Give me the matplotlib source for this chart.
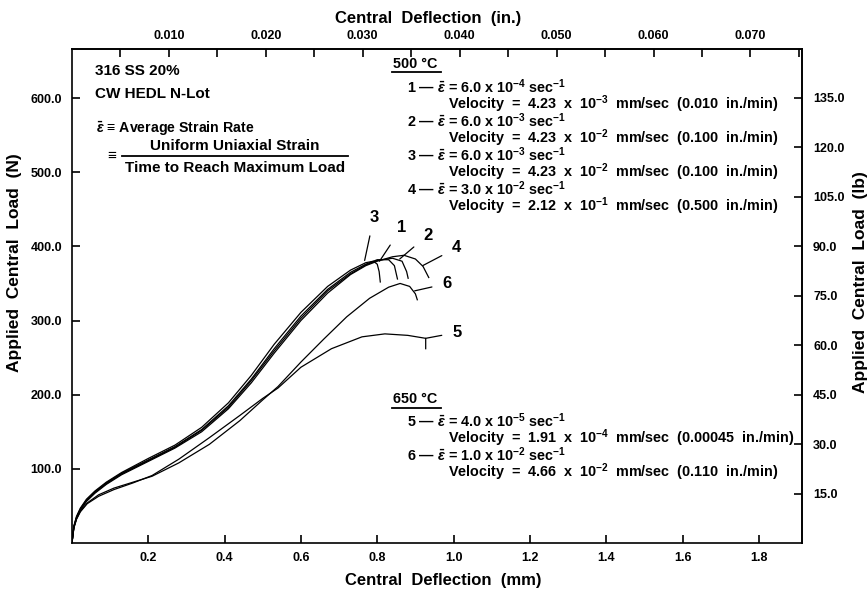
#!/usr/bin/env python3
"""Load vs central deflection for 316 SS 20% CW (HEDL N-Lot) at 500 and 650 C."""

import matplotlib

matplotlib.use("Agg")
import matplotlib.pyplot as plt

plt.rcParams.update(
    {
        "font.family": ["Liberation Sans", "DejaVu Sans"],
        "font.weight": "bold",
        "mathtext.fontset": "custom",
        "mathtext.rm": "Liberation Sans:bold",
        "mathtext.it": "Liberation Sans:italic:bold",
        "mathtext.bf": "Liberation Sans:bold",
        "mathtext.default": "rm",
        "axes.linewidth": 1.2,
    }
)

# curve data: deflection (mm), load (N)
X1 = [0, 0.005, 0.012, 0.022, 0.038, 0.06, 0.09, 0.13, 0.2, 0.27, 0.34, 0.41, 0.47, 0.53, 0.6, 0.67, 0.73, 0.77, 0.8, 0.83, 0.845, 0.853]
Y1 = [0, 22, 35, 46, 58, 69, 81, 94, 112, 130, 153, 185, 221, 262, 306, 342, 365, 376, 382, 382, 374, 356]
X2 = [0, 0.005, 0.012, 0.022, 0.038, 0.06, 0.09, 0.13, 0.2, 0.27, 0.34, 0.41, 0.47, 0.53, 0.6, 0.67, 0.73, 0.77, 0.8, 0.84, 0.865, 0.877, 0.881]
Y2 = [0, 22, 34, 45, 57, 68, 80, 93, 111, 129, 152, 183, 219, 259, 303, 340, 363, 375, 381, 384, 380, 366, 357]
X3 = [0, 0.005, 0.012, 0.022, 0.038, 0.06, 0.09, 0.13, 0.2, 0.27, 0.34, 0.41, 0.47, 0.53, 0.6, 0.67, 0.73, 0.77, 0.79, 0.8, 0.805, 0.808]
Y3 = [0, 23, 36, 47, 59, 70, 82, 95, 114, 132, 156, 189, 226, 268, 311, 346, 368, 378, 380, 376, 366, 352]
X4 = [0, 0.005, 0.012, 0.022, 0.038, 0.06, 0.09, 0.13, 0.2, 0.27, 0.34, 0.41, 0.47, 0.53, 0.6, 0.67, 0.73, 0.77, 0.8, 0.84, 0.87, 0.9, 0.92, 0.935]
Y4 = [0, 21, 33, 44, 56, 67, 79, 92, 110, 128, 150, 181, 216, 256, 300, 337, 362, 374, 380, 386, 388, 383, 373, 358]
X5 = [0, 0.005, 0.012, 0.022, 0.04, 0.07, 0.11, 0.16, 0.21, 0.28, 0.36, 0.44, 0.5, 0.54, 0.6, 0.68, 0.76, 0.82, 0.88, 0.927, 0.927]
Y5 = [0, 20, 32, 42, 53, 63, 72, 81, 91, 113, 142, 172, 195, 209, 237, 262, 278, 282, 280, 276, 262]
X6 = [0, 0.005, 0.012, 0.022, 0.04, 0.07, 0.11, 0.16, 0.21, 0.28, 0.36, 0.44, 0.5, 0.54, 0.6, 0.66, 0.72, 0.78, 0.83, 0.86, 0.885, 0.9, 0.905]
Y6 = [0, 21, 33, 43, 54, 65, 74, 82, 90, 108, 133, 165, 193, 211, 244, 275, 305, 330, 345, 350, 346, 336, 328]

CURVES = {"1": (X1, Y1), "2": (X2, Y2), "3": (X3, Y3), "4": (X4, Y4), "5": (X5, Y5), "6": (X6, Y6)}

# curve label -> (text position, leader target), data coords
CURVE_LABELS = {
    "3": ((0.791, 439), (0.767, 381)),
    "1": ((0.864, 425), (0.806, 380)),
    "2": ((0.932, 415), (0.859, 383)),
    "4": ((1.008, 398), (0.919, 374)),
    "6": ((0.984, 350), (0.898, 340)),
    "5": ((1.010, 284), (0.927, 276)),
}

X_TICKS_MM = [0.2, 0.4, 0.6, 0.8, 1.0, 1.2, 1.4, 1.6, 1.8]
Y_TICKS_N = [100, 200, 300, 400, 500, 600]
X_TICKS_IN = [0.005, 0.010, 0.015, 0.020, 0.025, 0.030, 0.035, 0.040, 0.045, 0.050, 0.055, 0.060, 0.065, 0.070, 0.075]
Y_TICKS_LB = [15, 30, 45, 60, 75, 90, 105, 120, 135]

EPS = r"$\bar{\mathit{\varepsilon}}$"
RATES_500 = [
    ("1", "6.0", "-4", "4.23", "-3", "0.010"),
    ("2", "6.0", "-3", "4.23", "-2", "0.100"),
    ("3", "6.0", "-3", "4.23", "-2", "0.100"),
    ("4", "3.0", "-2", "2.12", "-1", "0.500"),
]
RATES_650 = [
    ("5", "4.0", "-5", "1.91", "-4", "0.00045"),
    ("6", "1.0", "-2", "4.66", "-2", "0.110"),
]

N_PER_LB = 4.448222
MM_PER_IN = 25.4


def draw_rate_block(ax, rows, y_top, lkw):
    step = 0.0344
    for i, (num, rate, rexp, vel, vexp, inmin) in enumerate(rows):
        y = y_top - 2 * i * step
        ax.text(0.459, y, f"{num} — {EPS} = {rate} x 10$^{{{rexp}}}$ sec$^{{-1}}$", **lkw)
        ax.text(0.515, y - step,
                f"Velocity  =  {vel}  x  10$^{{{vexp}}}$  mm/sec  ({inmin}  in./min)", **lkw)


def main():
    fig = plt.figure(figsize=(8.68, 5.90), dpi=100)
    ax = fig.add_axes([0.0829, 0.0797, 0.841, 0.837])

    for key, (xs, ys) in CURVES.items():
        ax.plot(xs, ys, color="black", linewidth=0.9)

    for key, (text_xy, target_xy) in CURVE_LABELS.items():
        ax.annotate(
            key,
            xy=target_xy,
            xytext=text_xy,
            fontsize=12,
            fontweight="bold",
            ha="center",
            va="center",
            arrowprops=dict(arrowstyle="-", color="black", lw=0.9, shrinkA=6, shrinkB=0),
        )

    ax.set_xlim(0, 1.913)
    ax.set_ylim(0, 666)
    ax.set_xticks(X_TICKS_MM)
    ax.set_xticklabels([f"{v:.1f}" for v in X_TICKS_MM])
    ax.set_yticks(Y_TICKS_N)
    ax.set_yticklabels([f"{v:.1f}" for v in Y_TICKS_N])
    ax.tick_params(axis="x", direction="in", length=6, width=1.2, labelsize=9, pad=6.5)
    ax.tick_params(axis="y", direction="in", length=6, width=1.2, labelsize=9, pad=7)

    secx = ax.secondary_xaxis("top", functions=(lambda v: v / MM_PER_IN, lambda v: v * MM_PER_IN))
    secx.set_xticks(X_TICKS_IN)
    secx.set_xticklabels([f"{v:.3f}" if round(v * 1000) % 10 == 0 else "" for v in X_TICKS_IN])
    secx.tick_params(direction="in", length=6, width=1.2, labelsize=9, pad=5.5)

    secy = ax.secondary_yaxis("right", functions=(lambda v: v / N_PER_LB, lambda v: v * N_PER_LB))
    secy.set_yticks(Y_TICKS_LB)
    secy.set_yticklabels([f"{v:.1f}" for v in Y_TICKS_LB])
    secy.tick_params(direction="in", length=6, width=1.2, labelsize=9, pad=8)

    # axis titles
    fig.text(443 / 868, 1 - 580 / 590, "Central  Deflection  (mm)", ha="center", va="center", fontsize=12)
    fig.text(428 / 868, 1 - 18 / 590, "Central  Deflection  (in.)", ha="center", va="center", fontsize=12)
    fig.text(15 / 868, 1 - 263 / 590, "Applied  Central  Load  (N)", ha="center", va="center",
             rotation=90, fontsize=12.5)
    fig.text(860 / 868, 1 - 282 / 590, "Applied  Central  Load  (lb)", ha="center", va="center",
             rotation=90, fontsize=12.5)

    # material note and strain-rate definition
    tkw = dict(transform=ax.transAxes, fontsize=11, va="center")
    ax.text(0.0315, 0.955, "316 SS 20%", ha="left", **tkw)
    ax.text(0.0315, 0.909, "CW HEDL N-Lot", ha="left", **tkw)
    ax.text(0.033, 0.838, EPS + " ≡ Average Strain Rate", ha="left", transform=ax.transAxes,
            fontsize=10.2, va="center")
    ax.text(0.223, 0.803, "Uniform Uniaxial Strain", ha="center", **tkw)
    ax.text(0.055, 0.783, "≡", ha="center", **tkw)
    ax.plot([0.0685, 0.378], [0.783, 0.783], transform=ax.transAxes, color="black", lw=1.3)
    ax.text(0.223, 0.760, "Time to Reach Maximum Load", ha="center", **tkw)

    # rate legends
    lkw = dict(transform=ax.transAxes, fontsize=10.4, va="center", ha="left")
    ax.text(0.440, 0.970, "500 °C", **lkw)
    ax.plot([0.439, 0.506], [0.953, 0.953], transform=ax.transAxes, color="black", lw=1.3)
    draw_rate_block(ax, RATES_500, 0.923, lkw)

    ax.text(0.440, 0.291, "650 °C", **lkw)
    ax.plot([0.439, 0.506], [0.274, 0.274], transform=ax.transAxes, color="black", lw=1.3)
    draw_rate_block(ax, RATES_650, 0.247, lkw)

    fig.savefig("out.png", dpi=100)
    plt.close(fig)


if __name__ == "__main__":
    main()
